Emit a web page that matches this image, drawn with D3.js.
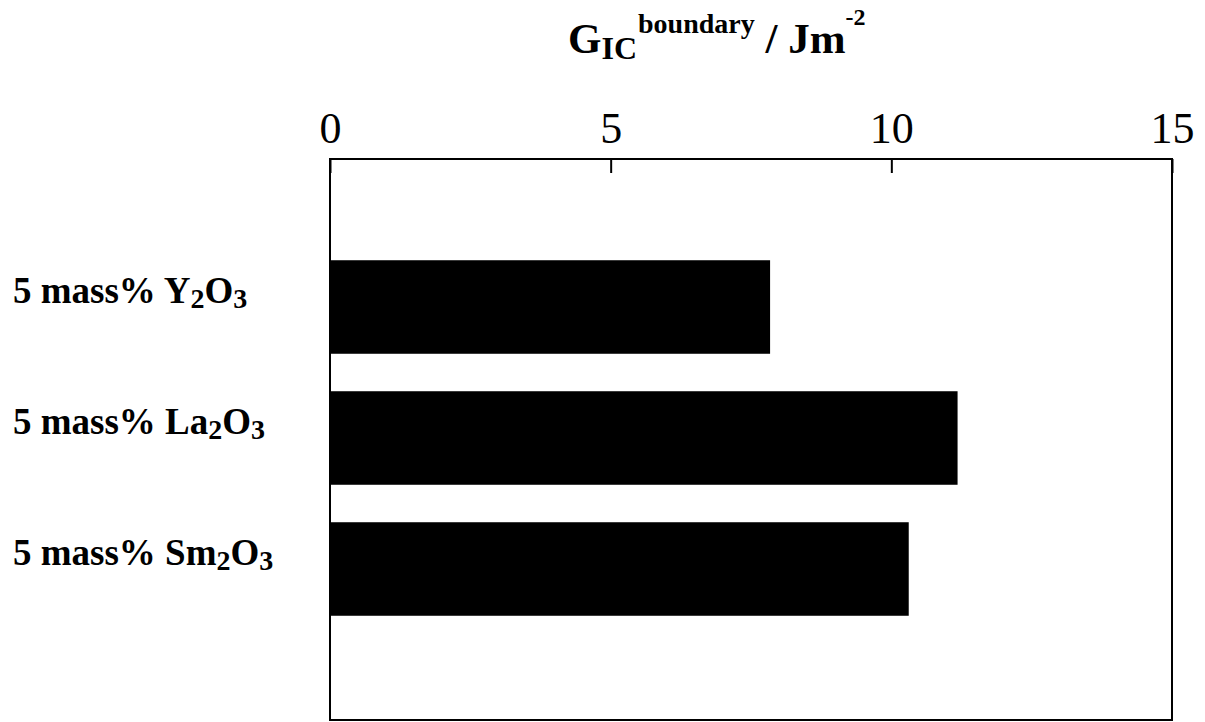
<!DOCTYPE html>
<html>
<head>
<meta charset="utf-8">
<script src="https://cdn.jsdelivr.net/npm/d3@7"></script>
<style>
  html, body { margin: 0; padding: 0; background: #fff; }
  svg { display: block; }
  text { font-family: "Times New Roman", "Liberation Serif", serif; fill: #000; }
</style>
</head>
<body>
<svg id="chart" width="1205" height="722"></svg>
<script>
// ---- data ----
const categories = ["5 mass% Y2O3", "5 mass% La2O3", "5 mass% Sm2O3"];
const values = [7.84, 11.18, 10.31];
const xTicks = [0, 5, 10, 15];
const xDomain = [0, 15];

// ---- layout ----
const svg = d3.select("#chart");
const plot = { left: 330, right: 1172, top: 159, bottom: 720 };

const x = d3.scaleLinear().domain(xDomain).range([plot.left, plot.right]);
const y = d3.scaleBand().domain(categories).range([241.5, 634.5])
  .paddingInner(0.286).paddingOuter(0.143);

// bars
svg.append("g").selectAll("rect").data(values).join("rect")
  .attr("x", x(0))
  .attr("y", (d, i) => y(categories[i]))
  .attr("width", d => x(d) - x(0))
  .attr("height", y.bandwidth())
  .attr("fill", "#000");

// frame
svg.append("rect")
  .attr("x", plot.left).attr("y", plot.top)
  .attr("width", plot.right - plot.left).attr("height", plot.bottom - plot.top)
  .attr("fill", "none").attr("stroke", "#000").attr("stroke-width", 2);

// top axis
const axis = d3.axisTop(x).tickValues(xTicks).tickSizeInner(-14).tickSizeOuter(0).tickPadding(16)
  .tickFormat(d3.format("d"));
const gAxis = svg.append("g").attr("transform", `translate(0,${plot.top})`).call(axis);
gAxis.select(".domain").remove();
gAxis.selectAll(".tick line").attr("stroke", "#000").attr("stroke-width", 2);
gAxis.selectAll(".tick text")
  .style("font-family", '"Times New Roman", "Liberation Serif", serif')
  .style("font-size", "44px").attr("fill", "#000");

// category labels: digits that follow a letter are subscripts
const lab = svg.append("g");
categories.forEach(c => {
  const t = lab.append("text")
    .attr("x", 13)
    .attr("y", y(c) + y.bandwidth() / 2 - 4)
    .attr("font-size", 37).attr("font-weight", "bold");
  const tokens = c.split(/(?<=[A-Za-z])(\d)/).filter(s => s !== "");
  let inSub = false;
  tokens.forEach((tok, i) => {
    const isSub = i > 0 && /^\d$/.test(tok);
    const s = t.append("tspan").text(tok);
    if (isSub) { s.attr("font-size", 28).attr("dy", 5); inSub = true; }
    else if (inSub) { s.attr("dy", -5); inSub = false; }
  });
});

// title: G_IC^boundary / Jm^-2
const title = svg.append("text").attr("x", 568).attr("y", 53).attr("font-weight", "bold");
title.append("tspan").text("G").attr("font-size", 43);
title.append("tspan").text("IC").attr("font-size", 32).attr("dy", 6);
title.append("tspan").text("boundary").attr("font-size", 28).attr("dy", -26).attr("dx", 1);
title.append("tspan").text(" / Jm").attr("font-size", 43).attr("dy", 20);
title.append("tspan").text("-2").attr("font-size", 24).attr("dy", -28);
</script>
</body>
</html>
